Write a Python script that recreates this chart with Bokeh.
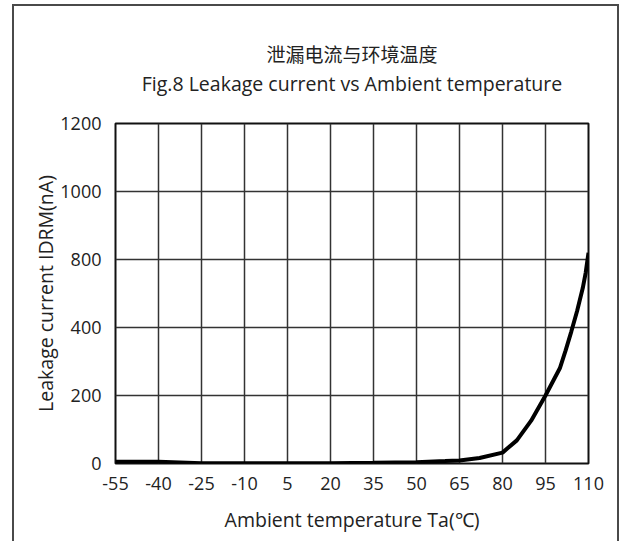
import numpy as np
from bokeh.plotting import figure
from bokeh.models import Range1d, FixedTicker, Title
from bokeh.embed import file_html
from bokeh.resources import INLINE

title_cn = "泄漏电流与环境温度"
title_en = "Fig.8 Leakage current vs Ambient temperature"
x_title = "Ambient temperature Ta(℃)"
y_title = "Leakage current IDRM(nA)"

x_ticks = [-55, -40, -25, -10, 5, 20, 35, 50, 65, 80, 95, 110]
# the y axis of the original is evenly gridded but labelled 0,200,400,800,1000,1200
y_tick_values = [0, 200, 400, 800, 1000, 1200]

temperature = [-55, -40, -25, -10, 5, 20, 35, 50, 60, 65, 72, 80, 85, 90, 95, 100, 102, 104, 106, 108, 109, 110]
leakage_nA = [5, 5, 1, 1, 1, 1, 2, 4, 7, 9, 16, 32, 68, 126, 200, 280, 332, 388, 496, 632, 720, 820]

FONT = "Open Sans"
CJK_FONT = "'Open Sans', 'Noto Sans CJK SC'"
INK = "#222222"
EDGE = "#4a4a4a"

# position on the evenly spaced grid of the original axis
y_pos = np.interp(leakage_nA, y_tick_values, np.arange(len(y_tick_values)))

p = figure(width=620, height=541, output_backend="svg", toolbar_location=None,
           x_range=Range1d(x_ticks[0], x_ticks[-1]),
           y_range=Range1d(0, len(y_tick_values) - 1),
           min_border_left=115, min_border_right=32,
           min_border_top=123, min_border_bottom=78,
           background_fill_color="white", border_fill_color=None)
# outer picture frame (left, top, right) drawn behind the transparent canvas border
p.styles = {"box-shadow": ("inset 12px 0 0 #ffffff, inset -1px 0 0 #ffffff, inset 0 4px 0 #ffffff, "
                           f"inset 14px 0 0 {EDGE}, inset -3px 0 0 {EDGE}, inset 0 6px 0 {EDGE}"),
            "background-color": "#ffffff"}

p.outline_line_color = "#111111"
p.outline_line_width = 2

p.xaxis.ticker = FixedTicker(ticks=x_ticks)
p.xaxis.major_label_overrides = {t: str(t) for t in x_ticks}
p.yaxis.ticker = FixedTicker(ticks=list(range(len(y_tick_values))))
p.yaxis.major_label_overrides = {i: str(v) for i, v in enumerate(y_tick_values)}

for ax in (p.xaxis, p.yaxis):
    ax.axis_line_color = None
    ax.major_tick_line_color = None
    ax.minor_tick_line_color = None
    ax.major_label_text_font = FONT
    ax.major_label_text_font_size = "18px"
    ax.major_label_text_color = INK
    ax.axis_label_text_font = FONT
    ax.axis_label_text_font_size = "19.5px"
    ax.axis_label_text_font_style = "normal"
    ax.axis_label_text_color = INK

p.xaxis.axis_label = x_title
p.yaxis.axis_label = y_title
p.xaxis.major_label_standoff = 7
p.xaxis.axis_label_standoff = 13
p.yaxis.major_label_standoff = 8
p.yaxis.axis_label_standoff = -2

p.xgrid.ticker = FixedTicker(ticks=x_ticks)
for g in (p.xgrid, p.ygrid):
    g.grid_line_color = "#333333"
    g.grid_line_width = 1.5

p.line(temperature, y_pos, line_color="black", line_width=4)

# blank spacer between the plot frame and the titles (innermost)
p.add_layout(Title(text=" ", text_font_size="1px", standoff=24), "above")
# English title above the spacer
p.add_layout(Title(text=title_en, align="center", text_font=FONT,
                   text_font_size="19.5px", text_font_style="normal",
                   text_color=INK, standoff=0), "above")
# outermost: Chinese title
p.title.text = title_cn
p.title.align = "center"
p.title.text_font = CJK_FONT
p.title.text_font_size = "19px"
p.title.text_font_style = "normal"
p.title.text_color = INK
p.title.standoff = 0

open("out.html", "w").write(file_html(p, INLINE))
